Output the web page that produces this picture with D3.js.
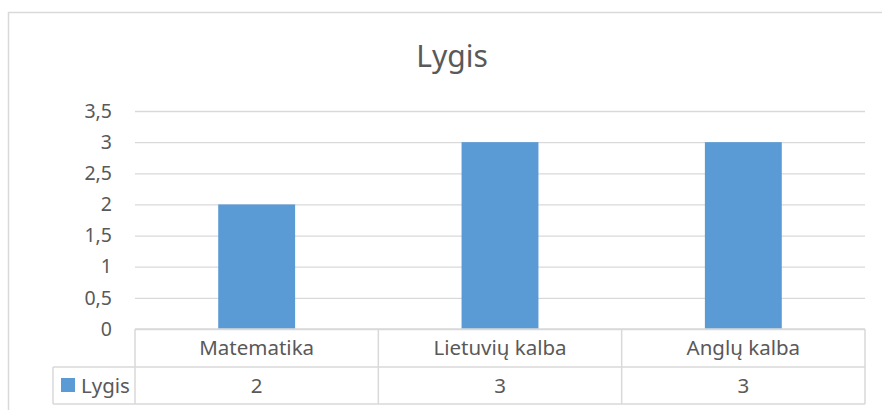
<!DOCTYPE html>
<html>
<head>
<meta charset="utf-8">
<script src="https://cdn.jsdelivr.net/npm/d3@7"></script>
<style>
  body { margin: 0; background: #fff; }
  svg { display: block; font-family: "Noto Sans", sans-serif; }
</style>
</head>
<body>
<div class="vis1"></div>
<script>
// chart data
const CATEGORIES = ["Matematika", "Lietuvių kalba", "Anglų kalba"];
const SERIES_NAME = "Lygis";
const VALUES = [2, 3, 3];
const Y_TICKS = [0, 0.5, 1, 1.5, 2, 2.5, 3, 3.5];

const FRAME_WIDTH = 882;
const FRAME_HEIGHT = 410;
const PLOT = {left: 135, right: 865, top: 111, bottom: 329};
const ROW1 = 367, ROW2 = 404, LEGEND_LEFT = 53;
const TEXT = "#595959", GRID = "#d9d9d9", BAR = "#5b9bd5";

const FRAME = d3.select('.vis1')
    .append('svg')
    .attr('width', FRAME_WIDTH)
    .attr('height', FRAME_HEIGHT);

// outer chart border
FRAME.append('rect')
    .attr('x', 8.5).attr('y', 12.5)
    .attr('width', 1000).attr('height', 1000)
    .attr('fill', 'none').attr('stroke', GRID).attr('stroke-width', 1.5);

// title
FRAME.append('text')
    .attr('x', 452).attr('y', 67)
    .attr('text-anchor', 'middle')
    .attr('font-size', '30px')
    .attr('fill', TEXT)
    .text(SERIES_NAME);

const X_SCALE = d3.scaleBand()
    .domain(CATEGORIES)
    .range([PLOT.left, PLOT.right])
    .paddingInner(0.684)
    .paddingOuter(0.342);

const COL = d3.scaleBand()
    .domain(CATEGORIES)
    .range([PLOT.left, PLOT.right]);

const Y_SCALE = d3.scaleLinear()
    .domain([0, 3.5])
    .range([PLOT.bottom, PLOT.top]);

// y axis + gridlines
const yAxis = FRAME.append('g')
    .attr('transform', 'translate(' + PLOT.left + ',0)')
    .call(d3.axisLeft(Y_SCALE)
        .tickValues(Y_TICKS)
        .tickSize(-(PLOT.right - PLOT.left))
        .tickPadding(23)
        .tickFormat((d) => String(d).replace('.', ',')));
yAxis.select('.domain').remove();
yAxis.selectAll('line').attr('stroke', GRID).attr('stroke-width', 1.3);
yAxis.selectAll('text')
    .attr('fill', TEXT)
    .attr('font-size', '19.5px')
    .attr('font-family', '"Noto Sans", sans-serif');

// bars
FRAME.selectAll('.bar')
    .data(VALUES)
    .enter().append('rect')
    .attr('class', 'bar')
    .attr('x', (d, i) => X_SCALE(CATEGORIES[i]))
    .attr('y', (d) => Y_SCALE(d))
    .attr('width', X_SCALE.bandwidth())
    .attr('height', (d) => Y_SCALE(0) - Y_SCALE(d))
    .attr('fill', BAR);

// data table
const table = FRAME.append('g')
    .attr('stroke', GRID).attr('stroke-width', 1.5).attr('fill', 'none');
table.append('line').attr('x1', PLOT.left).attr('x2', PLOT.right).attr('y1', PLOT.bottom).attr('y2', PLOT.bottom);
table.append('line').attr('x1', LEGEND_LEFT).attr('x2', PLOT.right).attr('y1', ROW1).attr('y2', ROW1);
table.append('line').attr('x1', LEGEND_LEFT).attr('x2', PLOT.right).attr('y1', ROW2).attr('y2', ROW2);
table.append('line').attr('x1', LEGEND_LEFT).attr('x2', LEGEND_LEFT).attr('y1', ROW1).attr('y2', ROW2);
table.selectAll('.vline')
    .data(CATEGORIES.map((c) => COL(c)).concat([PLOT.right]))
    .enter().append('line')
    .attr('x1', (d) => d).attr('x2', (d) => d)
    .attr('y1', PLOT.bottom).attr('y2', ROW2);

// category labels
FRAME.selectAll('.cat')
    .data(CATEGORIES)
    .enter().append('text')
    .attr('x', (d) => COL(d) + COL.bandwidth() / 2)
    .attr('y', 355)
    .attr('text-anchor', 'middle')
    .attr('font-size', '20.5px')
    .attr('fill', TEXT)
    .text((d) => d);

// value labels
FRAME.selectAll('.val')
    .data(VALUES)
    .enter().append('text')
    .attr('x', (d, i) => COL(CATEGORIES[i]) + COL.bandwidth() / 2)
    .attr('y', 393)
    .attr('text-anchor', 'middle')
    .attr('font-size', '20.5px')
    .attr('fill', TEXT)
    .text((d) => d);

// legend key in table
FRAME.append('rect')
    .attr('x', 61).attr('y', 378)
    .attr('width', 14).attr('height', 14)
    .attr('fill', BAR);
FRAME.append('text')
    .attr('x', 81).attr('y', 393)
    .attr('font-size', '20.5px')
    .attr('fill', TEXT)
    .text(SERIES_NAME);
</script>
</body>
</html>
